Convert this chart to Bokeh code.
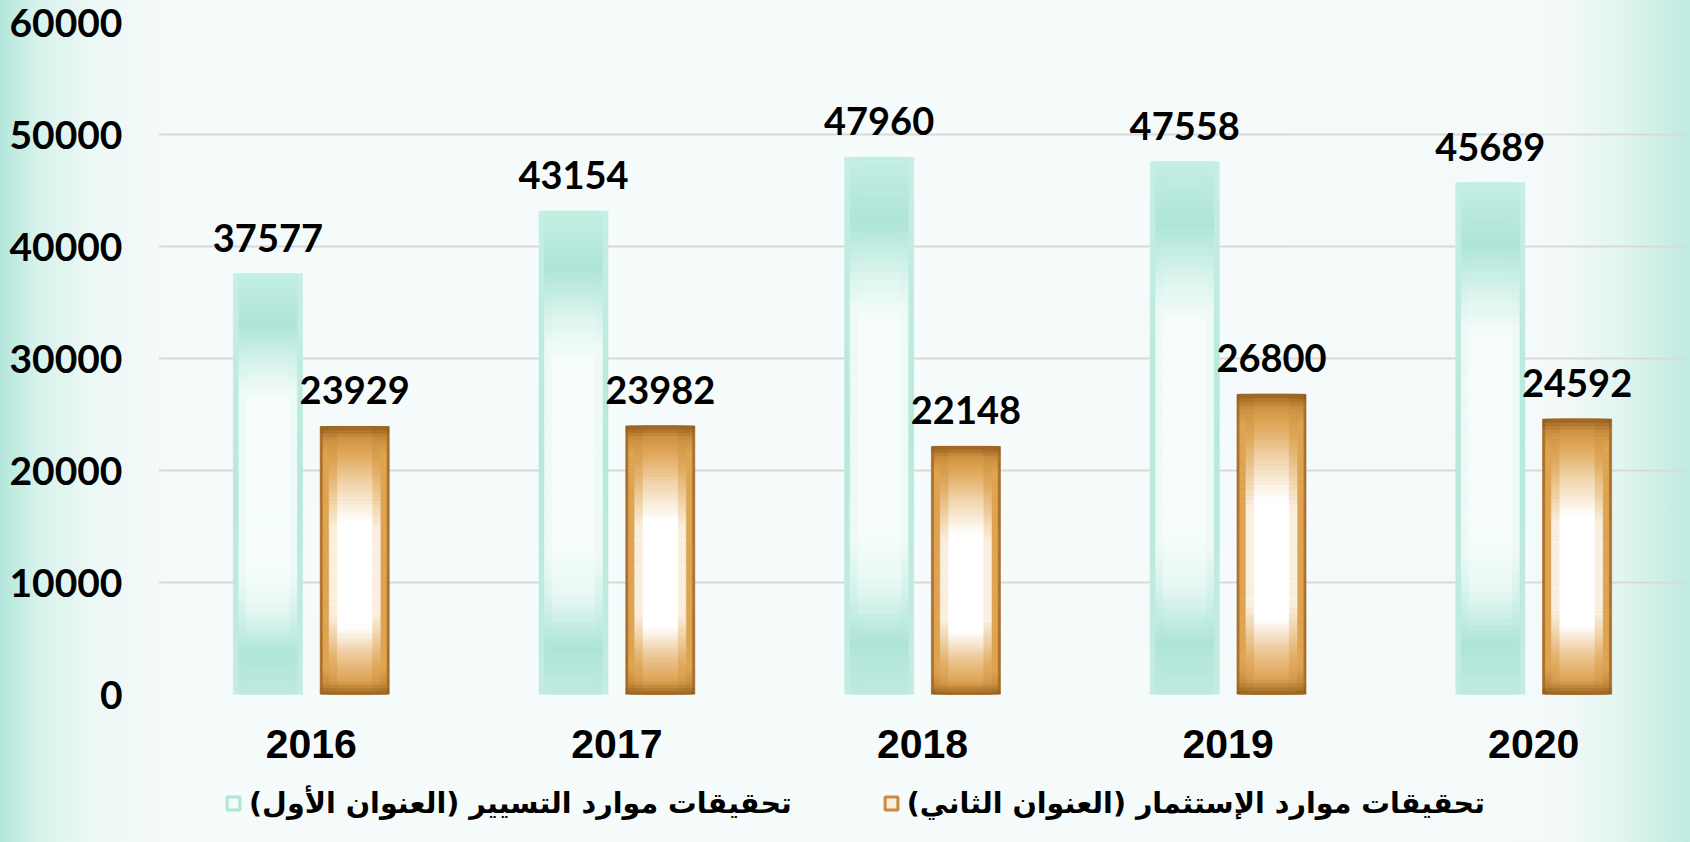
import numpy as np
from bokeh.plotting import figure
from bokeh.layouts import column
from bokeh.models import (ColumnDataSource, FactorRange, Range1d, Legend, LegendItem,
                          FixedTicker, NumeralTickFormatter)
from bokeh.transform import dodge
from bokeh.core.properties import value
from bokeh.embed import file_html
from bokeh.resources import INLINE

# ---------------- data ----------------
years = ["2016", "2017", "2018", "2019", "2020"]
operating = [37577, 43154, 47960, 47558, 45689]
investment = [23929, 23982, 22148, 26800, 24592]
series_names = ["تحقيقات موارد التسيير (العنوان الأول)\u200f",
                "تحقيقات موارد الإستثمار (العنوان الثاني)\u200f"]
y_ticks = [0, 10000, 20000, 30000, 40000, 50000, 60000]

# ---------------- styling ----------------
BAR_W = 0.226
OFF = 0.142
N = 80

teal_layers = [
    (1.00, [(0, "#c3ece2"), (0.5, "#b6e9dc"), (1, "#c6eee4")]),
    (0.84, [(0, "#c0ebe0"), (0.1, "#aee5d7"), (0.18, "#d0f1e9"), (0.28, "#eefaf7"),
            (0.72, "#eefaf7"), (0.8, "#d0f1e9"), (0.88, "#aee5d7"), (1, "#c4eee3")]),
    (0.62, [(0, "#c0ebe0"), (0.1, "#aee5d7"), (0.2, "#e6f8f3"), (0.3, "#f6fdfb"),
            (0.7, "#f6fdfb"), (0.78, "#dcf5ee"), (0.88, "#aee5d7"), (1, "#c4eee3")]),
]
orange_layers = [
    (1.00, [(0, "#8f5a1c"), (0.04, "#a86d28"), (0.5, "#ad722d"), (0.96, "#a86d28"), (1, "#8f5a1c")]),
    (0.92, [(0, "#93601f"), (0.04, "#c98b3c"), (0.1, "#dea553"), (0.9, "#dea553"),
            (0.96, "#c98b3c"), (1, "#93601f")]),
    (0.74, [(0, "#98621f"), (0.05, "#d69c4c"), (0.12, "#e2ac62"), (0.22, "#f1d3a8"),
            (0.3, "#fbf0e0"), (0.62, "#fbf0e0"), (0.72, "#f0d2a6"), (0.85, "#e0a95c"),
            (0.95, "#cf9342"), (1, "#98621f")]),
    (0.50, [(0, "#9a6421"), (0.05, "#dca352"), (0.15, "#eec99a"), (0.25, "#ffffff"),
            (0.65, "#ffffff"), (0.78, "#f2d7b0"), (0.9, "#e0a85a"), (0.96, "#cf9342"),
            (1, "#98621f")]),
]


def hex2rgb(h):
    return [int(h[i:i + 2], 16) for i in (1, 3, 5)]


def color_at(stops, t):
    ts = [s[0] for s in stops]
    cs = [hex2rgb(s[1]) for s in stops]
    rgb = [int(round(np.interp(t, ts, [c[k] for c in cs]))) for k in range(3)]
    return "#%02x%02x%02x" % tuple(rgb)


def slices(vals, stops):
    xs, bots, tops, cols = [], [], [], []
    for yr, v in zip(years, vals):
        for i in range(N):
            xs.append(yr)
            bots.append(v * i / N)
            tops.append(v * (i + 1) / N)
            cols.append(color_at(stops, (i + 0.5) / N))
    return ColumnDataSource(dict(x=xs, bottom=bots, top=tops, color=cols))


p = figure(x_range=FactorRange(*years), y_range=Range1d(0, 60000),
           width=1690, height=776, output_backend="svg", toolbar_location=None,
           min_border_left=158, min_border_right=4, min_border_top=22, min_border_bottom=82)
p.border_fill_color = None
p.background_fill_color = None
p.outline_line_color = None

p.xgrid.grid_line_color = None
p.ygrid.grid_line_color = "#d9d9d9"
p.ygrid.grid_line_width = 2
p.yaxis.ticker = FixedTicker(ticks=y_ticks)
p.yaxis.formatter = NumeralTickFormatter(format="0")
for ax in (p.xaxis, p.yaxis):
    ax.axis_line_color = None
    ax.major_tick_line_color = None
    ax.minor_tick_line_color = None
    ax.major_tick_out = 0
    ax.major_tick_in = 0
p.yaxis.major_label_text_font = "Lato"
p.yaxis.major_label_text_font_style = "bold"
p.yaxis.major_label_text_font_size = "39px"
p.yaxis.major_label_text_color = "#000000"
p.yaxis.major_label_standoff = 36
p.xaxis.major_label_text_font = "Liberation Sans"
p.xaxis.major_label_text_font_style = "bold"
p.xaxis.major_label_text_font_size = "41px"
p.xaxis.major_label_text_color = "#000000"
p.xaxis.major_label_standoff = 35

for vals, layers, off in ((operating, teal_layers, -OFF), (investment, orange_layers, OFF)):
    for frac, stops in layers:
        src = slices(vals, stops)
        p.vbar(x=dodge("x", off, range=p.x_range), bottom="bottom", top="top",
               width=BAR_W * frac, source=src, fill_color="color", line_color="color",
               line_width=0.6)

for vals, off in ((operating, -OFF), (investment, OFF)):
    lsrc = ColumnDataSource(dict(x=years, y=vals, t=[str(v) for v in vals]))
    p.text(x=dodge("x", off, range=p.x_range), y="y", text="t", source=lsrc,
           text_align="center", text_baseline="alphabetic", y_offset=-36,
           text_font=value("Lato"), text_font_style="bold", text_font_size="38px",
           text_color="#000000")

# ---------------- legend strip ----------------
lg = figure(width=1690, height=66, x_range=Range1d(0, 1), y_range=Range1d(0, 1),
            x_axis_type=None, y_axis_type=None, output_backend="svg",
            toolbar_location=None, min_border=0,
            min_border_left=0, min_border_right=0, min_border_top=0, min_border_bottom=0)
lg.border_fill_color = None
lg.background_fill_color = None
lg.outline_line_color = None
lg.grid.visible = False

r1 = lg.scatter(x=[-5], y=[-5], marker="square", size=13, fill_color="#f2fcf9",
                line_color="#aee5d7", line_width=3)
r2 = lg.scatter(x=[-5], y=[-5], marker="square", size=13, fill_color="#fbeedc",
                line_color="#c98b3c", line_width=3)
legend = Legend(items=[LegendItem(label=series_names[0], renderers=[r1]),
                       LegendItem(label=series_names[1], renderers=[r2])],
                orientation="horizontal", location=(59, 22),
                label_text_font="DejaVu Sans", label_text_font_style="bold",
                label_text_font_size="28.6px", label_text_color="#000000",
                glyph_width=32, glyph_height=32, label_standoff=0, spacing=83,
                padding=0, margin=0, border_line_color=None, background_fill_alpha=0,
                label_height=34)
lg.add_layout(legend, "center")

layout = column(p, lg, spacing=0)
layout.styles = {"background": "linear-gradient(90deg, #b3e7db 0px, #d8f3ec 40px, #eef8f6 95px, "
                               "#f5fafa 170px, #f6fbfb 50%, #f4fafa 1560px, #e2f5f0 1620px, "
                               "#c8eee4 1670px, #c0ebe1 100%)"}

open("out.html", "w").write(file_html(layout, INLINE))
